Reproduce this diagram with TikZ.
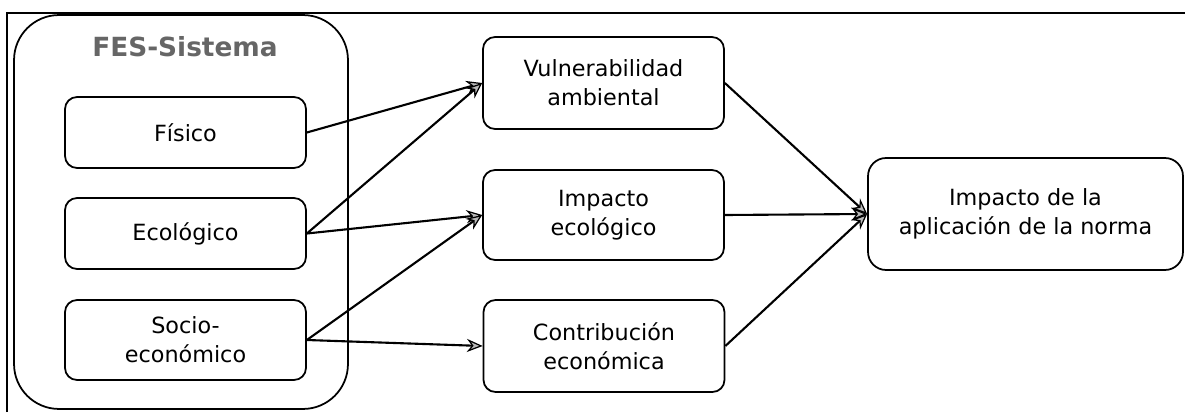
\documentclass[tikz,border=0pt]{standalone}
\usepackage{fontspec}
\setmainfont{DejaVu Sans}
\usetikzlibrary{arrows.meta}
\begin{document}
\begin{tikzpicture}[x=0.02cm,y=-0.02cm,
  box/.style={draw=black,line width=1pt,rounded corners=0.24cm,inner sep=0pt,align=center,
    minimum width=4.82cm,font=\fontsize{12.7}{16.4}\selectfont},
  conn/.style={line width=1.2pt,-{Stealth[length=9pt,width=7.5pt,fill=gray!55,line width=0.7pt]}}
]
\useasboundingbox (0,0) rectangle (1185,412);
\draw[line width=1.4pt] (7,412) -- (7,13) -- (1185,13);
\node[draw=black,line width=1pt,rounded corners=0.9cm,minimum width=6.68cm,minimum height=7.88cm,inner sep=0pt] (fes) at (181,212) {};
\node[font=\bfseries\fontsize{15}{18}\selectfont,text=black!60] (title) at (185,47) {FES-Sistema};
\node[box,minimum height=1.42cm] (fisico) at (185.5,132.5) {Físico};
\node[box,minimum height=1.42cm] (ecol) at (185.5,233.5) {Ecológico};
\node[box,minimum height=1.6cm] (socio) at (185.5,340) {Socio-\\económico};
\node[box,minimum height=1.84cm] (vuln) at (603.5,83) {Vulnerabilidad\\ambiental};
\node[box,minimum height=1.8cm] (impeco) at (603.5,215) {Impacto\\ecológico};
\node[box,minimum height=1.84cm] (contrib) at (604,346) {Contribución\\económica};
\node[box,minimum width=6.3cm,minimum height=2.24cm,rounded corners=0.36cm] (norma) at (1025.5,214) {Impacto de la\\aplicación de la norma};
\draw[conn] (fisico.east) -- (vuln.west);
\draw[conn] (ecol.east) -- (vuln.west);
\draw[conn] (ecol.east) -- (impeco.west);
\draw[conn] (socio.east) -- (impeco.west);
\draw[conn] (socio.east) -- (contrib.west);
\draw[conn] (vuln.east) -- (norma.west);
\draw[conn] (impeco.east) -- (norma.west);
\draw[conn] (contrib.east) -- (norma.west);
\end{tikzpicture}
\end{document}
